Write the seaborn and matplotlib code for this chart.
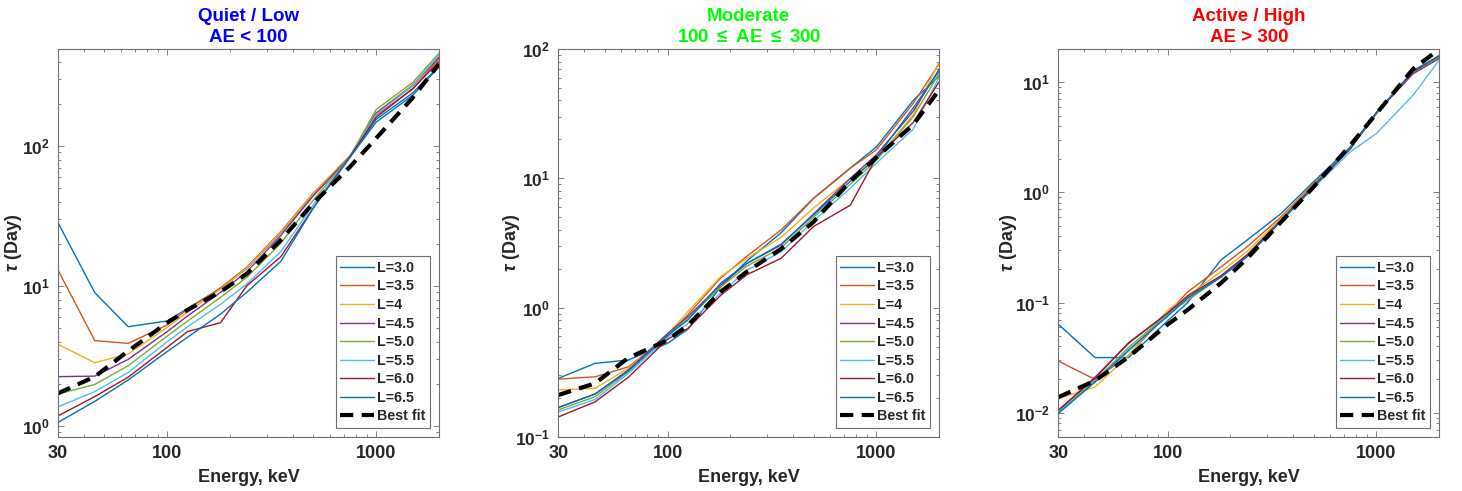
import numpy as np
import pandas as pd
import matplotlib
matplotlib.use("Agg")
import matplotlib.pyplot as plt
import matplotlib.ticker as mticker
import seaborn as sns

# ---------------- data ----------------
energy = [30, 45, 65, 100, 125, 180, 240, 350, 500, 750, 1000, 1500, 2000]
series_labels = ["L=3.0", "L=3.5", "L=4", "L=4.5", "L=5.0", "L=5.5", "L=6.0", "L=6.5"]

quiet_L30 = [28.3, 8.96, 5.12, 5.62, 6.9, 9.6, 13.3, 24, 45, 84, 155, 240, 372]
quiet_L35 = [13.0, 4.07, 3.89, 5.27, 6.8, 9.7, 13.6, 24.5, 46, 85, 165, 255, 420]
quiet_L40 = [3.83, 2.83, 3.27, 5.07, 6.5, 9.5, 13.4, 24.2, 45.5, 85, 172, 275, 440]
quiet_L45 = [2.25, 2.27, 2.99, 4.72, 6.1, 9.0, 12.6, 23, 44, 84, 172, 270, 430]
quiet_L50 = [1.69, 1.98, 2.69, 4.39, 5.6, 8.3, 11.5, 20.2, 41, 84, 182, 285, 460]
quiet_L55 = [1.37, 1.76, 2.41, 4.0, 5.1, 7.4, 10.3, 17.6, 38, 84, 168, 270, 445]
quiet_L60 = [1.18, 1.62, 2.23, 3.65, 4.72, 5.47, 10.0, 16.2, 36, 84, 160, 258, 400]
quiet_L65 = [1.06, 1.50, 2.13, 3.40, 4.3, 6.3, 9.0, 15.0, 36, 83, 148, 231, 368]
quiet_fit = [1.71, 2.25, 3.43, 5.47, 6.74, 9.1, 12.2, 21.3, 39, 71, 113.5, 222, 385]

mod_L30 = [0.284, 0.371, 0.394, 0.53, 0.68, 1.45, 2.3, 3.8, 7.0, 12.0, 17.5, 40, 62]
mod_L35 = [0.280, 0.292, 0.349, 0.60, 0.88, 1.70, 2.5, 4.0, 7.0, 12.0, 16.6, 38, 77]
mod_L40 = [0.231, 0.238, 0.340, 0.62, 0.93, 1.74, 2.4, 3.5, 5.9, 10.0, 14.0, 31, 80]
mod_L45 = [0.169, 0.215, 0.330, 0.63, 0.85, 1.50, 2.2, 3.05, 5.3, 10.0, 15.2, 33, 70]
mod_L50 = [0.162, 0.205, 0.320, 0.61, 0.82, 1.45, 2.1, 2.9, 5.0, 9.0, 13.8, 30, 65]
mod_L55 = [0.156, 0.195, 0.310, 0.59, 0.75, 1.30, 1.95, 2.7, 4.7, 8.4, 13.1, 24, 61]
mod_L60 = [0.143, 0.187, 0.290, 0.57, 0.69, 1.25, 1.8, 2.41, 4.24, 6.2, 14.5, 27, 56]
mod_L65 = [0.169, 0.215, 0.325, 0.61, 0.80, 1.55, 2.2, 3.1, 5.2, 9.5, 14.5, 35, 68]
mod_fit = [0.211, 0.26, 0.41, 0.56, 0.73, 1.33, 1.9, 2.85, 4.6, 9.5, 14.5, 26, 48.4]

act_L30 = [0.0635, 0.0316, 0.0316, 0.068, 0.10, 0.243, 0.368, 0.644, 1.25, 2.6, 5.3, 12.5, 17]
act_L35 = [0.0294, 0.0200, 0.0330, 0.080, 0.125, 0.21, 0.32, 0.60, 1.20, 2.55, 5.2, 12.5, 17]
act_L40 = [0.0134, 0.0171, 0.0330, 0.085, 0.115, 0.19, 0.29, 0.58, 1.18, 2.5, 5.2, 12.5, 17.5]
act_L45 = [0.0104, 0.0210, 0.0424, 0.080, 0.110, 0.17, 0.27, 0.56, 1.15, 2.5, 5.3, 12.0, 16.5]
act_L50 = [0.0101, 0.0195, 0.0390, 0.078, 0.105, 0.17, 0.27, 0.56, 1.15, 2.5, 5.3, 12.5, 17]
act_L55 = [0.0100, 0.0190, 0.0360, 0.077, 0.110, 0.17, 0.26, 0.55, 1.10, 2.34, 3.43, 7.67, 16]
act_L60 = [0.0105, 0.0205, 0.0430, 0.080, 0.115, 0.175, 0.27, 0.56, 1.15, 2.5, 5.3, 12.5, 17.5]
act_L65 = [0.0098, 0.0190, 0.0370, 0.075, 0.110, 0.17, 0.26, 0.55, 1.12, 2.5, 5.3, 12.8, 17.5]
act_fit = [0.0138, 0.0195, 0.032, 0.063, 0.086, 0.15, 0.25, 0.54, 1.12, 2.69, 5.2, 13.3, 20]

panel_titles = ["Quiet / Low\nAE < 100", "Moderate\n100 $\\leq$ AE $\\leq$ 300", "Active / High\nAE > 300"]
title_colors = ["#0000FF", "#00FF00", "#FF0000"]
x_ticks = [30, 100, 1000]
x_ticklabels = ["30", "100", "1000"]
y_ticks = [[1, 10, 100], [0.1, 1, 10, 100], [0.01, 0.1, 1, 10]]
y_ticklabels = [[r"$\mathbf{10^{0}}$", r"$\mathbf{10^{1}}$", r"$\mathbf{10^{2}}$"],
                [r"$\mathbf{10^{-1}}$", r"$\mathbf{10^{0}}$", r"$\mathbf{10^{1}}$", r"$\mathbf{10^{2}}$"],
                [r"$\mathbf{10^{-2}}$", r"$\mathbf{10^{-1}}$", r"$\mathbf{10^{0}}$", r"$\mathbf{10^{1}}$"]]
y_limits = [(0.834, 493), (0.1, 100), (0.006, 20.1)]

panels = [
    [quiet_L30, quiet_L35, quiet_L40, quiet_L45, quiet_L50, quiet_L55, quiet_L60, quiet_L65, quiet_fit],
    [mod_L30, mod_L35, mod_L40, mod_L45, mod_L50, mod_L55, mod_L60, mod_L65, mod_fit],
    [act_L30, act_L35, act_L40, act_L45, act_L50, act_L55, act_L60, act_L65, act_fit],
]

line_colors = ["#0072BD", "#D95319", "#EDB120", "#7E2F8E", "#77AC30", "#4DBEEE", "#A2142F", "#0072BD"]

# ---------------- style ----------------
sns.set_style("ticks")
plt.rcParams["font.family"] = ["Liberation Sans", "DejaVu Sans"]
plt.rcParams["font.weight"] = "bold"
plt.rcParams["mathtext.fontset"] = "custom"
plt.rcParams["mathtext.rm"] = "Liberation Sans"
plt.rcParams["mathtext.it"] = "Liberation Sans:italic"
plt.rcParams["mathtext.bf"] = "Liberation Sans:bold"

fig = plt.figure(figsize=(14.62, 4.91), dpi=100)
lefts = [58 / 1462, 558.3 / 1462, 1058.3 / 1462]
axw = 381 / 1462
axb = (491 - 437) / 491
axh = 388 / 491
ylabel_x = [-0.088, -0.096, -0.102]

edge = "#6e6e6e"
for i in range(3):
    ax = fig.add_axes([lefts[i], axb, axw, axh])
    data = panels[i]
    for j in range(8):
        df = pd.DataFrame({"E": energy, "tau": data[j]})
        sns.lineplot(data=df, x="E", y="tau", ax=ax, color=line_colors[j],
                     lw=1.0, label=series_labels[j], sort=False)
    dff = pd.DataFrame({"E": energy, "tau": data[8]})
    sns.lineplot(data=dff, x="E", y="tau", ax=ax, color="black", lw=3.0,
                 label="Best fit", sort=False, linestyle=(0, (3.2, 2.0)))
    ax.set_xscale("log")
    ax.set_yscale("log")
    ax.set_xlim(30, 2000)
    ax.set_ylim(*y_limits[i])
    ax.set_xticks(x_ticks)
    ax.set_xticklabels(x_ticklabels, fontsize=13, fontweight="bold", color="#262626")
    ax.xaxis.set_minor_locator(mticker.LogLocator(base=10, subs=np.arange(2, 10), numticks=20))
    ax.xaxis.set_minor_formatter(mticker.NullFormatter())
    ax.set_yticks(y_ticks[i])
    ax.set_yticklabels(y_ticklabels[i], fontsize=12.5, color="#262626")
    ax.yaxis.set_minor_locator(mticker.LogLocator(base=10, subs=np.arange(2, 10), numticks=20))
    ax.yaxis.set_minor_formatter(mticker.NullFormatter())
    ax.tick_params(which="both", direction="in", top=True, right=True, color=edge, width=0.6)
    ax.tick_params(which="major", length=4.5, pad=6)
    ax.tick_params(which="minor", length=2.5)
    for s in ax.spines.values():
        s.set_visible(True)
        s.set_color(edge)
        s.set_linewidth(0.8)
    ax.set_xlabel("Energy, keV", fontsize=13, fontweight="bold", color="#262626", labelpad=5)
    ax.set_ylabel(r"$\mathit{\tau}$ (Day)", fontsize=13, fontweight="bold", color="#262626")
    ax.yaxis.set_label_coords(ylabel_x[i], 0.5)
    ax.set_title(panel_titles[i], color=title_colors[i], fontsize=13.5, fontweight="bold",
                 pad=5, linespacing=1.3)
    leg = ax.legend(loc="lower right", fontsize=10.3, frameon=True, fancybox=False,
                    framealpha=1, edgecolor=edge, handlelength=2.4, handletextpad=0.2,
                    labelspacing=0.32, borderpad=0.3, borderaxespad=0.65)
    leg.get_frame().set_linewidth(0.8)
    for t in leg.get_texts():
        t.set_fontweight("bold")
        t.set_color("#262626")

fig.savefig("out.png", dpi=100)
